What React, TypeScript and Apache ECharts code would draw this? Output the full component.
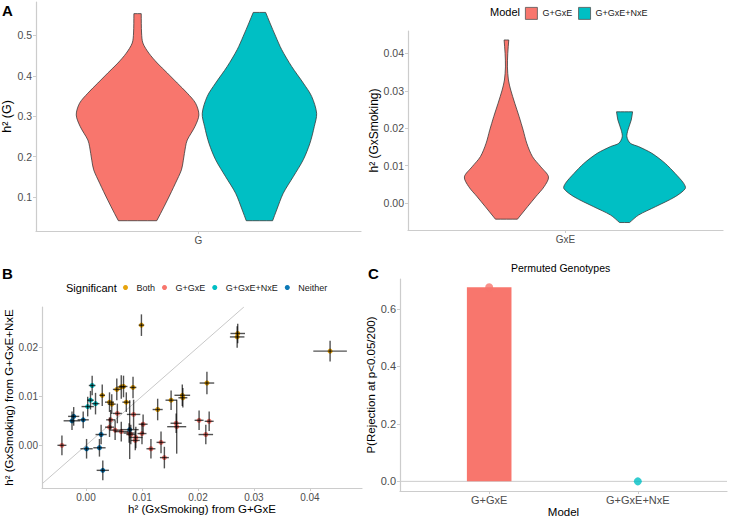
import React, { useEffect, useRef } from 'react';
import * as echarts from 'echarts';

const FONT = '"Liberation Sans", Arial, Helvetica, sans-serif';
const RED = '#F8766D';
const TEAL = '#00BFC4';
const ORANGE = '#E69F00';
const BLUE = '#0072B2';

// ---------- Panel A: violin profiles [value, half-width in category units] ----------
const modelNames = ['G+GxE', 'G+GxE+NxE'];
const panelACategories = ['G', 'GxE'];
const violinGRed = [
  [0.554, 0.0135], [0.506, 0.0148], [0.481, 0.0197], [0.456, 0.0418], [0.4315, 0.0727],
  [0.407, 0.1097], [0.382, 0.1466], [0.357, 0.1835], [0.332, 0.2142], [0.303, 0.2264],
  [0.274, 0.2116], [0.241, 0.1835], [0.224, 0.177], [0.191, 0.169], [0.167, 0.162],
  [0.134, 0.14], [0.092, 0.11], [0.059, 0.085], [0.041, 0.0708],
];
const violinGTeal = [
  [0.557, 0.0229], [0.531, 0.0388], [0.498, 0.0598], [0.465, 0.082], [0.423, 0.119],
  [0.382, 0.1618], [0.349, 0.1928], [0.307, 0.2112], [0.274, 0.2024], [0.233, 0.1865],
  [0.192, 0.1618], [0.15, 0.1248], [0.109, 0.0879], [0.0675, 0.0635], [0.041, 0.0487],
];
const violinGxERed = [
  [0.0436, 0.0089], [0.04, 0.0051], [0.0364, 0.0038], [0.0329, 0.0076], [0.0302, 0.0164],
  [0.0267, 0.0317], [0.0231, 0.0484], [0.0195, 0.0637], [0.016, 0.0774], [0.0124, 0.0992],
  [0.0097, 0.1308], [0.007, 0.1602], [0.0044, 0.1438], [0.0017, 0.1117], [-0.001, 0.0801],
  [-0.0043, 0.042],
];
const violinGxETeal = [
  [0.0244, 0.0305], [0.0222, 0.0254], [0.0195, 0.0127], [0.0177, 0.0089], [0.016, 0.0216],
  [0.0151, 0.0534], [0.0133, 0.1042], [0.0106, 0.155], [0.0079, 0.193], [0.0053, 0.225],
  [0.0039, 0.2314], [0.0017, 0.193], [-0.001, 0.117], [-0.0032, 0.0534], [-0.0052, 0.0191],
];
const ticksAG = [0.1, 0.2, 0.3, 0.4, 0.5];
const ticksAGxE = [0, 0.01, 0.02, 0.03, 0.04];

// ---------- Panel B: [x, y, xErr, yErr] ----------
const significantNames = ['Both', 'G+GxE', 'G+GxE+NxE', 'Neither'];
const bothPoints = [
  [0.0099, 0.0245, 0.0005, 0.0022], [0.0271, 0.0228, 0.0013, 0.002], [0.027, 0.0221, 0.0013, 0.0022],
  [0.0436, 0.0192, 0.003, 0.0021], [0.0216, 0.0127, 0.0013, 0.0023], [0.0172, 0.0102, 0.0014, 0.0022],
  [0.0173, 0.0097, 0.0008, 0.002], [0.0152, 0.0092, 0.001, 0.002], [0.0128, 0.0073, 0.0009, 0.0022],
  [0.0029, 0.0102, 0.0005, 0.0022], [0.0042, 0.0088, 0.0008, 0.002], [0.0046, 0.0084, 0.0007, 0.002],
  [0.0055, 0.0114, 0.0007, 0.0022], [0.0063, 0.0119, 0.0007, 0.0024], [0.0067, 0.012, 0.0007, 0.0022],
  [0.0084, 0.0118, 0.0006, 0.0022], [0.0072, 0.0088, 0.0007, 0.002],
];
const gxePoints = [
  [-0.0043, 0.0, 0.0008, 0.002], [0.0044, 0.0052, 0.0008, 0.002], [0.0056, 0.0065, 0.0008, 0.002],
  [0.0042, 0.0037, 0.0008, 0.002], [0.0052, 0.0031, 0.001, 0.002], [0.0063, 0.0028, 0.0012, 0.002],
  [0.0077, 0.0025, 0.001, 0.002], [0.0085, 0.0063, 0.0012, 0.003], [0.0089, 0.0016, 0.0012, 0.0022],
  [0.0088, 0.001, 0.0008, 0.002], [0.008, 0.0022, 0.0008, 0.002], [0.0102, 0.0043, 0.0008, 0.002],
  [0.01, 0.0024, 0.0008, 0.0022], [0.0116, -0.0007, 0.0008, 0.002], [0.0134, 0.0006, 0.0008, 0.0022],
  [0.014, -0.0025, 0.0008, 0.0022], [0.0161, 0.0045, 0.001, 0.002], [0.0162, 0.0038, 0.0017, 0.0055],
  [0.0202, 0.0051, 0.0008, 0.002], [0.022, 0.0049, 0.0008, 0.002], [0.0214, 0.0022, 0.0013, 0.002],
];
const nxePoints = [
  [0.0011, 0.0122, 0.0006, 0.002], [0.0008, 0.0092, 0.0006, 0.0019],
  [0.0017, 0.0085, 0.0007, 0.0022], [0.0003, 0.0079, 0.0011, 0.002],
];
const neitherPoints = [
  [-0.0022, 0.0059, 0.001, 0.0019], [-0.0025, 0.005, 0.0015, 0.0019], [-0.0005, 0.0052, 0.001, 0.0017],
  [0.0027, 0.0022, 0.001, 0.002], [0.0001, -0.0007, 0.0011, 0.002], [0.0024, -0.0005, 0.0011, 0.0018],
  [0.003, -0.0051, 0.0011, 0.002], [0.0078, 0.0032, 0.0016, 0.006],
];
const ticksBX = [0, 0.01, 0.02, 0.03, 0.04];
const ticksBY = [0, 0.01, 0.02];

// ---------- Panel C ----------
const permRejection = [0.675, 0];
const ticksC = [0, 0.2, 0.4, 0.6];

// ---------- layout constants ----------
const DODGE = 0.225;
const BAR_WIDTH = 0.3;
const B_X = [-0.00786, 0.0493];
const B_Y = [-0.0087, 0.0282];
const C_X = [0.4, 2.6];

const AXIS_COLOR = '#CCCCCC';
const LABEL_COLOR = '#4D4D4D';

function valueAxis(o: any) {
  return {
    type: 'value',
    gridIndex: o.grid,
    min: o.min,
    max: o.max,
    splitLine: { show: false },
    axisLine: { show: true, onZero: false, lineStyle: { color: AXIS_COLOR, width: 1.2 } },
    axisTick: { show: true, length: 3, lineStyle: { color: AXIS_COLOR, width: 1 }, customValues: o.ticks },
    axisLabel: {
      customValues: o.ticks,
      formatter: o.fmt,
      color: LABEL_COLOR,
      fontSize: o.fontSize || 10,
      fontFamily: FONT,
      margin: o.margin || 4,
    },
    name: o.name,
    nameLocation: 'middle',
    nameGap: o.nameGap,
    nameRotate: o.rotate,
    nameTextStyle: { color: '#000', fontSize: o.nameSize || 11.5, fontFamily: FONT },
  };
}

function violin(name: string, color: string, profile: number[][], center: number, axis: number) {
  return {
    type: 'custom',
    name,
    xAxisIndex: axis,
    yAxisIndex: axis,
    coordinateSystem: 'cartesian2d',
    itemStyle: { color, borderColor: '#333' },
    data: [[center, profile[0][0]]],
    renderItem: (_p: any, api: any) => {
      const left = profile.map(([v, w]) => api.coord([center - w, v]));
      const right = profile.slice().reverse().map(([v, w]) => api.coord([center + w, v]));
      // repeat the corner points so the flat top and bottom stay sharp
      const pts = [left[0], ...left, left[left.length - 1], right[0], ...right, right[right.length - 1]];
      return {
        type: 'polygon',
        shape: { points: pts, smooth: 0.3 },
        style: { fill: color, stroke: '#3a3a3a', lineWidth: 0.8 },
      };
    },
    z: 2,
  };
}

function scatter(name: string, color: string, pts: number[][]) {
  return {
    type: 'scatter',
    name,
    xAxisIndex: 2,
    yAxisIndex: 2,
    symbol: 'circle',
    symbolSize: 5,
    itemStyle: { color, opacity: 0.95 },
    data: pts.map((p) => [p[0], p[1]]),
    z: 2,
  };
}

const allPoints = [...bothPoints, ...gxePoints, ...nxePoints, ...neitherPoints];

function buildOption(): any {
  const ERR = 'rgba(0,0,0,0.68)';
  return {
    animation: false,
    backgroundColor: '#fff',
    textStyle: { fontFamily: FONT },
    grid: [
      { left: 36, top: 2, width: 325, height: 229, outerBoundsMode: 'none' },
      { left: 408, top: 31, width: 315, height: 199, outerBoundsMode: 'none' },
      { left: 42, top: 307, width: 320, height: 181, outerBoundsMode: 'none' },
      { left: 400, top: 279, width: 327, height: 212, outerBoundsMode: 'none' },
    ],
    xAxis: [
      valueAxis({ grid: 0, min: 1 - 0.6, max: 1 + 0.6, ticks: [1], fmt: () => panelACategories[0] }),
      valueAxis({ grid: 1, min: 1 - 0.6, max: 1 + 0.6, ticks: [1], fmt: () => panelACategories[1] }),
      valueAxis({
        grid: 2, min: B_X[0], max: B_X[1], ticks: ticksBX, fmt: (v: number) => v.toFixed(2),
        name: 'h² (GxSmoking) from G+GxE', nameGap: 14,
      }),
      valueAxis({
        grid: 3, min: C_X[0], max: C_X[1], ticks: [1, 2], fmt: (v: number) => modelNames[Math.round(v) - 1],
        name: 'Model', nameGap: 14, fontSize: 11, margin: 3,
      }),
    ],
    yAxis: [
      valueAxis({ grid: 0, min: 0.0155, max: 0.5828, ticks: ticksAG, fmt: (v: number) => v.toFixed(1), name: 'h² (G)', nameGap: 18, rotate: 90, nameSize: 12.5, fontSize: 10.5 }),
      valueAxis({ grid: 1, min: -0.0072, max: 0.046, ticks: ticksAGxE, fmt: (v: number) => v.toFixed(2), name: 'h² (GxSmoking)', nameGap: 24, rotate: 90, nameSize: 12, fontSize: 10.5 }),
      valueAxis({ grid: 2, min: B_Y[0], max: B_Y[1], ticks: ticksBY, fmt: (v: number) => v.toFixed(2), name: 'h² (GxSmoking) from G+GxE+NxE', nameGap: 21, rotate: 90 }),
      valueAxis({ grid: 3, min: -0.0335, max: 0.7035, ticks: ticksC, fmt: (v: number) => v.toFixed(1), name: 'P(Rejection at p<0.05/200)', nameGap: 21, rotate: 90, fontSize: 11 }),
    ],
    legend: [
      {
        left: 525, top: 7, padding: 0, itemWidth: 12, itemHeight: 12, itemGap: 6, icon: 'rect',
        data: modelNames, selectedMode: false,
        itemStyle: { borderColor: '#555', borderWidth: 0.8 },
        textStyle: { fontSize: 9, color: '#1A1A1A', fontFamily: FONT },
        z: 5,
      },
      {
        left: 123, top: 283, padding: 0, itemWidth: 12, itemHeight: 5, itemGap: 7,
        data: significantNames.map((n) => ({ name: n, icon: 'circle' })), selectedMode: false,
        textStyle: { fontSize: 9, color: '#1A1A1A', fontFamily: FONT },
        z: 5,
      },
    ],
    graphic: [
      { type: 'text', left: 2, top: 3, style: { text: 'A', font: `bold 15px ${FONT}`, fill: '#000' } },
      { type: 'text', left: 2, top: 266, style: { text: 'B', font: `bold 15px ${FONT}`, fill: '#000' } },
      { type: 'text', left: 368, top: 266, style: { text: 'C', font: `bold 15px ${FONT}`, fill: '#000' } },
      { type: 'text', left: 490, top: 6, style: { text: 'Model', font: `11px ${FONT}`, fill: '#000' } },
      { type: 'text', left: 66, top: 282, style: { text: 'Significant', font: `11px ${FONT}`, fill: '#000' } },
      { type: 'text', left: 511, top: 262, style: { text: 'Permuted Genotypes', font: `10.5px ${FONT}`, fill: '#000' } },
    ],
    series: [
      violin(modelNames[0], RED, violinGRed, 1 - DODGE, 0),
      violin(modelNames[1], TEAL, violinGTeal, 1 + DODGE, 0),
      violin(modelNames[0], RED, violinGxERed, 1 - DODGE, 1),
      violin(modelNames[1], TEAL, violinGxETeal, 1 + DODGE, 1),
      {
        type: 'line', name: 'diag', xAxisIndex: 2, yAxisIndex: 2, symbol: 'none', silent: true,
        data: [[B_X[0], B_X[0]], [B_Y[1], B_Y[1]]],
        lineStyle: { color: '#C8C8C8', width: 1 }, z: 1,
      },
      scatter('Both', ORANGE, bothPoints),
      scatter('G+GxE', RED, gxePoints),
      scatter('G+GxE+NxE', TEAL, nxePoints),
      scatter('Neither', BLUE, neitherPoints),
      {
        type: 'custom', name: 'errorbars', xAxisIndex: 2, yAxisIndex: 2,
        coordinateSystem: 'cartesian2d', encode: { x: 0, y: 1 },
        data: allPoints,
        renderItem: (_p: any, api: any) => {
          const x = api.value(0), y = api.value(1), xe = api.value(2), ye = api.value(3);
          const h1 = api.coord([x - xe, y]), h2 = api.coord([x + xe, y]);
          const v1 = api.coord([x, y - ye]), v2 = api.coord([x, y + ye]);
          return {
            type: 'group',
            children: [
              { type: 'line', shape: { x1: h1[0], y1: h1[1], x2: h2[0], y2: h2[1] }, style: { stroke: ERR, lineWidth: 1.4 } },
              { type: 'line', shape: { x1: v1[0], y1: v1[1], x2: v2[0], y2: v2[1] }, style: { stroke: ERR, lineWidth: 1.4 } },
            ],
          };
        },
        z: 3,
      },
      {
        type: 'line', name: 'zero', xAxisIndex: 3, yAxisIndex: 3, symbol: 'none', silent: true,
        data: [[C_X[0], 0], [C_X[1], 0]],
        lineStyle: { color: AXIS_COLOR, width: 1 }, z: 1,
      },
      {
        type: 'custom', name: 'permBar', xAxisIndex: 3, yAxisIndex: 3,
        coordinateSystem: 'cartesian2d', encode: { x: 0, y: 1 },
        data: [[1, permRejection[0]]],
        renderItem: (_p: any, api: any) => {
          const x = api.value(0), v = api.value(1);
          const p1 = api.coord([x - BAR_WIDTH / 2, v]);
          const p2 = api.coord([x + BAR_WIDTH / 2, 0]);
          return {
            type: 'rect',
            shape: { x: p1[0], y: p1[1], width: p2[0] - p1[0], height: p2[1] - p1[1] },
            style: { fill: RED },
          };
        },
        z: 2,
      },
      {
        type: 'scatter', name: 'permPoints', xAxisIndex: 3, yAxisIndex: 3,
        symbol: 'circle', symbolSize: 8,
        data: permRejection.map((v, i) => ({ value: [i + 1, v], itemStyle: { color: i === 0 ? RED : TEAL } })),
        z: 3,
      },
    ],
  };
}

export default function App() {
  const ref = useRef<HTMLDivElement>(null);
  useEffect(() => {
    const chart = echarts.init(ref.current as HTMLDivElement, null, { renderer: 'svg' });
    chart.setOption(buildOption());
    return () => chart.dispose();
  }, []);
  return (
    <div
      ref={ref}
      style={{ position: 'fixed', left: 0, top: 0, width: 729, height: 517, background: '#fff' }}
    />
  );
}
